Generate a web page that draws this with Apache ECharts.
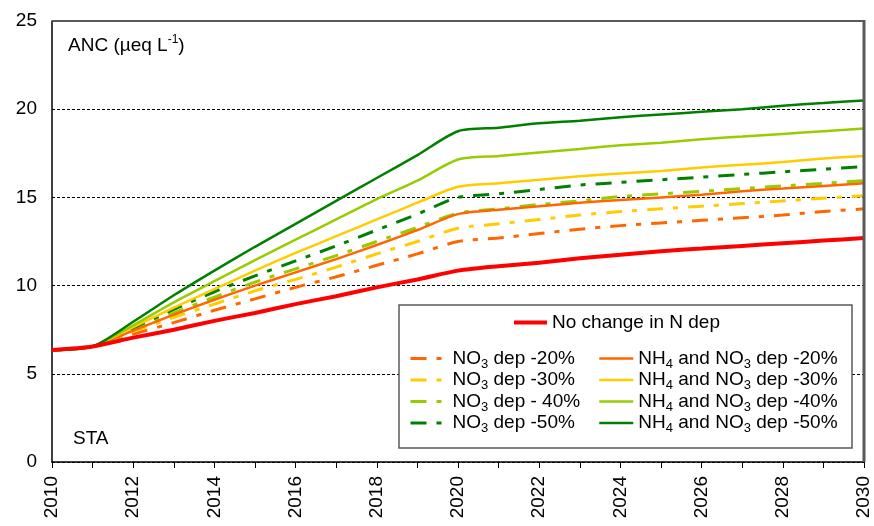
<!DOCTYPE html>
<html>
<head>
<meta charset="utf-8">
<script src="https://cdn.jsdelivr.net/npm/echarts@6/dist/echarts.min.js"></script>
<style>
html,body{margin:0;padding:0;background:#fff;}
#chart{width:874px;height:526px;}
</style>
</head>
<body>
<div id="chart"></div>
<script>
// ---- data ----
var years = [2010,2011,2012,2013,2014,2015,2016,2017,2018,2019,2020,2021,2022,2023,2024,2025,2026,2027,2028,2029,2030];
var xTickLabels = ['2010','2012','2014','2016','2018','2020','2022','2024','2026','2028','2030'];
var yTicks = [0,5,10,15,20,25];

var noChange = [6.35,6.55,7.05,7.5,8.0,8.45,8.95,9.4,9.9,10.35,10.85,11.1,11.3,11.55,11.75,11.95,12.1,12.25,12.4,12.55,12.7];

var no3Dep20 = [6.35,6.55,7.25,7.9,8.6,9.25,9.9,10.5,11.15,11.8,12.5,12.7,12.95,13.2,13.4,13.55,13.7,13.85,14.0,14.2,14.35];
var no3Dep30 = [6.35,6.55,7.4,8.2,8.95,9.7,10.35,11.05,11.8,12.5,13.25,13.5,13.75,14.0,14.2,14.35,14.5,14.65,14.8,14.95,15.1];
var no3Dep40 = [6.35,6.55,7.5,8.45,9.35,10.2,10.95,11.7,12.5,13.3,14.1,14.35,14.6,14.8,15.05,15.2,15.35,15.5,15.65,15.8,15.95];
var no3Dep50 = [6.35,6.55,7.6,8.65,9.65,10.55,11.4,12.25,13.15,14.05,15.0,15.2,15.45,15.7,15.85,16.0,16.15,16.3,16.45,16.6,16.75];

var bothDep20 = [6.35,6.55,7.45,8.35,9.2,10.0,10.75,11.5,12.3,13.15,14.05,14.3,14.5,14.7,14.85,15.0,15.15,15.35,15.5,15.65,15.8];
var bothDep30 = [6.35,6.55,7.65,8.75,9.8,10.85,11.85,12.8,13.75,14.7,15.6,15.8,16.0,16.2,16.35,16.5,16.7,16.85,17.0,17.2,17.35];
var bothDep40 = [6.35,6.55,7.75,9.05,10.25,11.45,12.6,13.75,14.9,15.95,17.15,17.35,17.55,17.75,17.95,18.1,18.3,18.45,18.6,18.75,18.9];
var bothDep50 = [6.35,6.55,7.95,9.45,10.85,12.2,13.5,14.8,16.1,17.4,18.75,18.95,19.2,19.35,19.55,19.7,19.85,20.0,20.2,20.35,20.5];

var names = {
  noChange: 'No change in N dep',
  no3_20: 'NO3 dep -20%', no3_30: 'NO3 dep -30%', no3_40: 'NO3 dep - 40%', no3_50: 'NO3 dep -50%',
  both_20: 'NH4 and NO3 dep -20%', both_30: 'NH4 and NO3 dep -30%', both_40: 'NH4 and NO3 dep -40%', both_50: 'NH4 and NO3 dep -50%'
};

var cOrange = '#ff6600', cYellow = '#ffcc00', cLight = '#99cc00', cDark = '#008000', cRed = '#ff0000';
var FONT = '"Liberation Sans", Arial, sans-serif';
var dashDot = [16, 10, 5, 10];

function pairs(arr) { return years.map(function (y, i) { return [y, arr[i]]; }); }

function line(name, data, color, width, dashed) {
  return {
    name: name, type: 'line', data: pairs(data), symbol: 'none', showSymbol: false,
    smooth: 0.25, animation: false,
    lineStyle: { color: color, width: width, type: dashed ? dashDot : 'solid', cap: 'butt' },
    itemStyle: { color: color }
  };
}

var richLegend = {
  n: { fontSize: 19, fontFamily: FONT, color: '#000', lineHeight: 24, fontWeight: 'normal' },
  s: { fontSize: 13, fontFamily: FONT, color: '#000', lineHeight: 13, verticalAlign: 'bottom', fontWeight: 'normal' }
};
function legendFmt(name) {
  return '{n|' + name.replace(/(N[OH])(\d)/g, '$1}{s|$2}{n|') + '}';
}
var hideSymbol = { opacity: 0, borderWidth: 0 };

var chart = echarts.init(document.getElementById('chart'), null, { renderer: 'canvas' });
chart.setOption({
  animation: false,
  backgroundColor: '#fff',
  grid: { left: 52, right: 10, top: 21, bottom: 64, containLabel: false },
  title: [
    { text: '{a|ANC (µeq L}{b|-1}{a|)}', left: 68, top: 34, padding: 0,
      textStyle: { fontWeight: 'normal', rich: {
        a: { fontSize: 19, fontFamily: FONT, color: '#000', lineHeight: 24, fontWeight: 'normal' },
        b: { fontSize: 12, fontFamily: FONT, color: '#000', lineHeight: 12, verticalAlign: 'top', fontWeight: 'normal' }
      } } },
    { text: 'STA', left: 73, top: 427, padding: 0,
      textStyle: { fontSize: 19, fontFamily: FONT, color: '#000', fontWeight: 'normal', lineHeight: 24 } }
  ],
  xAxis: {
    type: 'value', min: 2010, max: 2030, interval: 1,
    axisLine: { show: true, onZero: false, lineStyle: { color: '#000', width: 1.5 } },
    axisTick: { show: true, inside: false, length: 6, lineStyle: { color: '#000', width: 1 } },
    axisLabel: { rotate: 90, margin: 14, color: '#000', fontSize: 19, fontFamily: FONT,
      formatter: function (v) { var s = String(v); return xTickLabels.indexOf(s) >= 0 ? s : ''; } },
    splitLine: { show: false }
  },
  yAxis: {
    type: 'value', min: yTicks[0], max: yTicks[yTicks.length - 1], interval: 5,
    axisLine: { show: true, lineStyle: { color: '#000', width: 1.5 } },
    axisTick: { show: false },
    axisLabel: { margin: 15, color: '#000', fontSize: 19, fontFamily: FONT },
    splitLine: { show: true, lineStyle: { color: '#000', width: 1, type: [3, 2] } }
  },
  legend: [
    { data: [names.noChange], left: 512, top: 313, padding: 0, itemWidth: 33, itemHeight: 14,
      selectedMode: false, formatter: legendFmt, itemStyle: hideSymbol,
      lineStyle: { width: 4, type: 'inherit' }, textStyle: { rich: richLegend } },
    { data: [names.no3_20, names.no3_30, names.no3_40, names.no3_50], orient: 'vertical',
      left: 409, top: 349, padding: 0, itemGap: 0, itemWidth: 31, itemHeight: 14,
      selectedMode: false, formatter: legendFmt, itemStyle: hideSymbol,
      lineStyle: { width: 3, type: 'inherit' }, textStyle: { rich: richLegend, padding: [0, 0, 0, 6] } },
    { data: [names.both_20, names.both_30, names.both_40, names.both_50], orient: 'vertical',
      left: 598, top: 349, padding: 0, itemGap: 0, itemWidth: 34, itemHeight: 14,
      selectedMode: false, formatter: legendFmt, itemStyle: hideSymbol,
      lineStyle: { width: 2.5, type: 'inherit' }, textStyle: { rich: richLegend } }
  ],
  graphic: [
    { type: 'rect', z: 3, shape: { x: 399, y: 305, width: 453, height: 143 },
      style: { fill: '#fff', stroke: '#595959', lineWidth: 1.5 } },
    { type: 'line', z: 10, shape: { x1: 52, y1: 21, x2: 865, y2: 21 },
      style: { stroke: '#595959', lineWidth: 2 } },
    { type: 'line', z: 10, shape: { x1: 864, y1: 20, x2: 864, y2: 462 },
      style: { stroke: '#595959', lineWidth: 3 } }
  ],
  series: [
    line(names.no3_20, no3Dep20, cOrange, 3, true),
    line(names.no3_30, no3Dep30, cYellow, 3, true),
    line(names.no3_40, no3Dep40, cLight, 3, true),
    line(names.no3_50, no3Dep50, cDark, 3, true),
    line(names.both_20, bothDep20, cOrange, 2.5, false),
    line(names.both_30, bothDep30, cYellow, 2.5, false),
    line(names.both_40, bothDep40, cLight, 2.5, false),
    line(names.both_50, bothDep50, cDark, 2.5, false),
    line(names.noChange, noChange, cRed, 4, false)
  ]
});
</script>
</body>
</html>
